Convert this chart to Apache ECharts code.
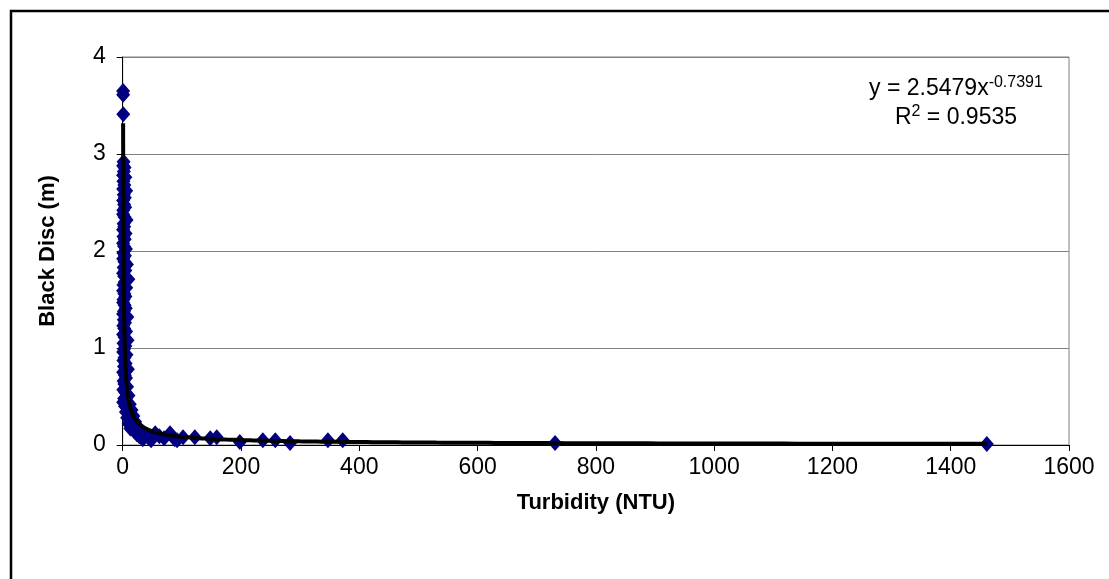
<!DOCTYPE html>
<html><head><meta charset="utf-8">
<script src="https://cdn.jsdelivr.net/npm/echarts@6/dist/echarts.min.js"></script>
<style>html,body{margin:0;padding:0;background:#fff}#c{width:1109px;height:579px}</style>
</head><body><div id="c"></div>
<script>
// Turbidity (NTU) and Black Disc (m) readings
const turbidity = [0.7,0.8,1.0,
1.5,0.8,3.2,2.0,0.7,4.5,1.2,2.8,0.8,5.8,1.8,3.6,0.7,2.4,4.2,1.0,0.7,3.0,6.5,1.6,2.6,0.7,4.8,1.3,3.4,0.7,2.2,5.5,1.1,3.8,0.8,2.9,7.2,1.7,4.4,0.7,2.5,9.5,3.5,1.2,6.0,0.7,2.8,4.6,1.5,0.7,3.3,5.2,2.1,0.7,7.8,1.8,3.9,1.0,2.6,5.8,0.7,3.2,8.2,1.4,4.5,2.3,0.8,6.4,3.0,1.2,4.9,2.2,8.8,0.8,3.6,5.6,1.6,2.8,7.4,1.0,4.4,9.8,2.4,6.2,0.8,12,3.8,8.5,15,5.5,11,18,7.5,14,21,10,17,25,13,29,20,33,24,38,28,43,34,48,
55,62,70,80,88,92,102,122,148,159,198,237,258,283,347,372,731,1461];
const blackDisc = [3.65,3.61,3.41,
2.92,2.88,2.86,2.82,2.78,2.76,2.72,2.68,2.64,2.62,2.58,2.55,2.52,2.48,2.45,2.42,2.38,2.35,2.32,2.28,2.25,2.22,2.18,2.15,2.12,2.08,2.05,2.02,1.98,1.95,1.92,1.89,1.86,1.83,1.80,1.77,1.74,1.71,1.68,1.65,1.62,1.59,1.56,1.53,1.50,1.47,1.44,1.41,1.38,1.35,1.32,1.29,1.26,1.23,1.20,1.17,1.14,1.11,1.08,1.05,1.02,0.99,0.96,0.93,0.90,0.87,0.84,0.81,0.78,0.75,0.72,0.69,0.66,0.63,0.60,0.57,0.54,0.51,0.48,0.46,0.44,0.42,0.40,0.38,0.36,0.34,0.32,0.30,0.28,0.26,0.24,0.22,0.20,0.19,0.17,0.16,0.14,0.13,0.11,0.10,0.09,0.08,0.06,0.05,
0.12,0.09,0.07,0.12,0.06,0.05,0.08,0.08,0.07,0.08,0.03,0.05,0.05,0.02,0.05,0.05,0.02,0.01];
const xTicks = [0,200,400,600,800,1000,1200,1400,1600];
const yTicks = [0,1,2,3,4];
// Power trendline shown on the chart: y = A * x^B
const fitA = 2.5479, fitB = -0.7391, fitR2 = '0.9535';

const pts = turbidity.map((x,i)=>[x, blackDisc[i]]);
const xMin = Math.min(...turbidity), xMax = Math.max(...turbidity);
const trend = [];
const N = 400;
for (let i=0;i<=N;i++){
  const x = Math.exp(Math.log(xMin) + (Math.log(xMax)-Math.log(xMin))*i/N);
  trend.push([x, fitA*Math.pow(x, fitB)]);
}
const FONT = 'Liberation Sans, Arial, sans-serif';
const chart = echarts.init(document.getElementById('c'), null, {renderer:'canvas'});
chart.setOption({
  animation:false,
  backgroundColor:'#fff',
  grid:{left:122.7, right:40, top:57, bottom:134, show:true, borderColor:'#808080', borderWidth:1, backgroundColor:'transparent'},
  xAxis:{type:'value', min:xTicks[0], max:xTicks[xTicks.length-1], interval:200,
    name:'Turbidity (NTU)', nameLocation:'middle', nameGap:47,
    nameTextStyle:{fontFamily:FONT, fontSize:22, fontWeight:'bold', color:'#000'},
    axisLine:{show:true, onZero:false, lineStyle:{color:'#000', width:1}},
    axisTick:{show:true, inside:false, length:6, lineStyle:{color:'#000'}},
    axisLabel:{fontFamily:FONT, fontSize:23, color:'#000', margin:11, formatter:(v)=>String(v)},
    splitLine:{show:false}},
  yAxis:{type:'value', min:yTicks[0], max:yTicks[yTicks.length-1], interval:1,
    name:'Black Disc (m)', nameLocation:'middle', nameGap:64, nameRotate:90,
    nameTextStyle:{fontFamily:FONT, fontSize:22, fontWeight:'bold', color:'#000'},
    axisLine:{show:true, onZero:false, lineStyle:{color:'#000', width:1}},
    axisTick:{show:true, inside:false, length:6, lineStyle:{color:'#000'}},
    axisLabel:{fontFamily:FONT, fontSize:23, color:'#000', margin:17, formatter:(v)=>String(v)},
    splitLine:{show:true, lineStyle:{color:'#808080', width:1}}},
  series:[
    {type:'scatter', data:pts, symbol:'diamond', symbolSize:[14,16],
      itemStyle:{color:'#000080', opacity:1}, z:2},
    {type:'line', data:trend, showSymbol:false, symbol:'none', smooth:false,
      lineStyle:{color:'#000', width:4}, z:3, clip:true}
  ],
  graphic:[
    {type:'rect', shape:{x:11, y:11, width:1200, height:700}, style:{fill:'none', stroke:'#000', lineWidth:2.5}, silent:true},
    {type:'text', x:956, y:74, style:{
      text:'{a|y = '+fitA+'x}{b|'+fitB+'}\n{a|R}{b|2}{a| = '+fitR2+'}',
      align:'center', verticalAlign:'top',
      rich:{a:{fontFamily:FONT, fontSize:23, color:'#000', lineHeight:29},
            b:{fontFamily:FONT, fontSize:16, color:'#000', lineHeight:29, verticalAlign:'top', padding:[1,0,0,0]}}
    }}
  ]
});
</script></body></html>
